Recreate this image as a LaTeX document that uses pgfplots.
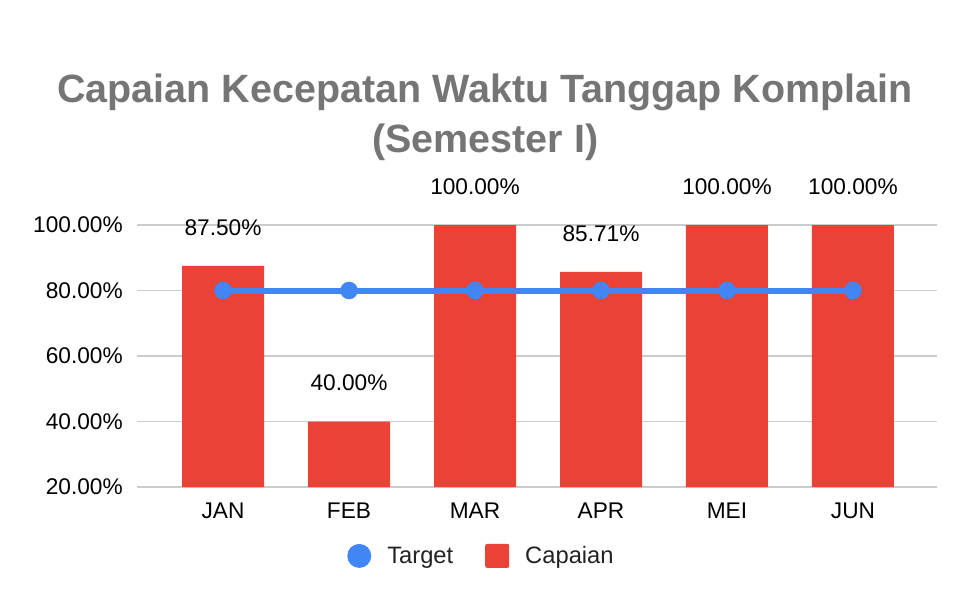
\documentclass[border=0pt]{standalone}
\usepackage{fontspec}
\setmainfont{Liberation Sans}
\usepackage{pgfplots}
\pgfplotsset{compat=1.18}
\definecolor{barred}{HTML}{EA4335}
\definecolor{lineblue}{HTML}{4285F4}
\definecolor{titlegray}{HTML}{757575}
\definecolor{gridgray}{HTML}{CCCCCC}
\definecolor{txt}{HTML}{222222}
\begin{document}
\begin{tikzpicture}[x=1pt,y=1pt]
\path[use as bounding box] (0,0) rectangle (724.5,447);
\begin{axis}[
  at={(102.75pt,81.75pt)}, anchor=south west,
  scale only axis, width=600pt, height=196.5pt,
  xmin=-0.683, xmax=5.667, ymin=20, ymax=100,
  clip=false,
  axis line style={draw=none},
  major tick length=0pt,
  ytick={20,40,60,80,100},
  xtick={0,1,2,3,4,5},
  xticklabels={JAN,FEB,MAR,APR,MEI,JUN},
  ymajorgrids,
  grid style={gridgray, line width=0.8pt},
  /pgf/number format/assume math mode=true,
  yticklabel={\pgfmathprintnumber[fixed,fixed zerofill,precision=2]{\tick}\%},
  yticklabel style={font=\fontsize{17}{20}\selectfont, text=black, anchor=east, inner sep=0pt, xshift=-10.5pt},
  xticklabel style={font=\fontsize{17}{20}\selectfont, text=black, anchor=north, inner sep=0pt, yshift=-11.8pt},
  legend style={at={(0.431,-0.263)}, anchor=center, draw=none, fill=none,
    legend columns=2, font=\fontsize{17.8}{20}\selectfont, text=txt,
    /tikz/every even column/.append style={column sep=22pt}},
]
\addlegendimage{legend image code/.code={\fill[lineblue, draw=none] (9pt,0) circle (9pt); \path[draw=none] (0,0) -- (28pt,0);}}
\addlegendentry{Target}
\addlegendimage{legend image code/.code={\fill[barred, draw=none, rounded corners=1.5pt] (0,-9pt) rectangle (18pt,9pt); \path[draw=none] (0,0) -- (28pt,0);}}
\addlegendentry{Capaian}
\addplot[ybar, bar width=61.5pt, fill=barred, draw=none, forget plot,
  nodes near coords={\pgfmathprintnumber[fixed,fixed zerofill,precision=2]{\pgfplotspointmeta}\%},
  nodes near coords style={font=\fontsize{17}{20}\selectfont, text=black, anchor=base, inner sep=0pt, yshift=23pt},
  /pgf/number format/assume math mode=true]
  coordinates {(0,87.50) (1,40.00) (2,100.00) (3,85.71) (4,100.00) (5,100.00)};
\addplot[lineblue, line width=4.5pt, mark=*, mark size=6.5pt, mark options={fill=lineblue, draw=lineblue, line width=0.1pt}, forget plot]
  coordinates {(0,80) (1,80) (2,80) (3,80) (4,80) (5,80)};
\end{axis}
\node[anchor=base, font=\fontsize{29.6}{35}\selectfont\bfseries, text=titlegray] at (363.75,369.75) {Capaian Kecepatan Waktu Tanggap Komplain};
\node[anchor=base, font=\fontsize{29.6}{35}\selectfont\bfseries, text=titlegray] at (364,332.25) {(Semester I)};
\end{tikzpicture}
\end{document}
